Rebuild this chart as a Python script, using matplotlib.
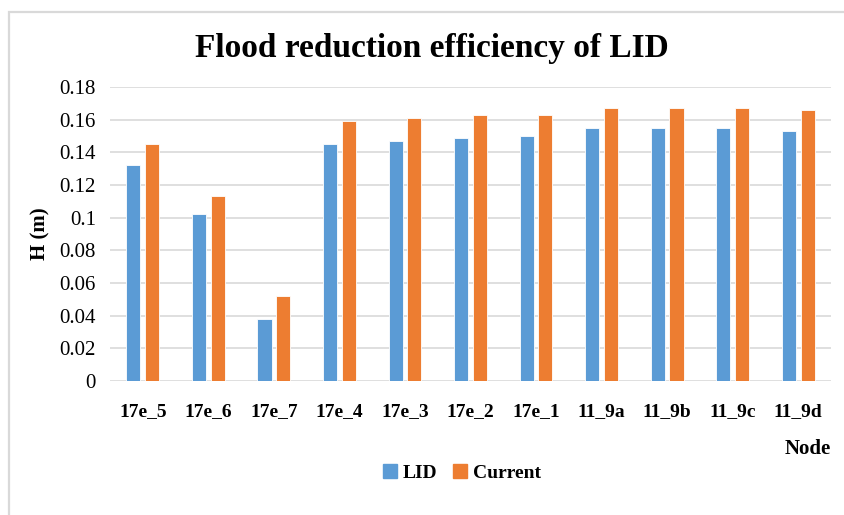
import matplotlib
matplotlib.use("Agg")
import matplotlib.pyplot as plt
from matplotlib.patches import Rectangle, Patch
import numpy as np

# Node names and water depth H (m) for each scenario
nodes = ["17e_5", "17e_6", "17e_7", "17e_4", "17e_3", "17e_2",
         "17e_1", "11_9a", "11_9b", "11_9c", "11_9d"]
lid = [0.132, 0.102, 0.038, 0.145, 0.147, 0.149, 0.150, 0.155, 0.155, 0.155, 0.153]
current = [0.145, 0.113, 0.052, 0.159, 0.161, 0.163, 0.163, 0.167, 0.167, 0.167, 0.166]

plt.rcParams['font.family'] = ['Liberation Serif', 'DejaVu Serif']

W, H = 844, 515
fig = plt.figure(figsize=(W / 100, H / 100), dpi=100)
fig.patch.set_facecolor('white')

# light outer frame of the chart
fig.add_artist(Rectangle((9 / W, -0.1), 1.1, 1 - 12 / H + 0.1, transform=fig.transFigure,
                         fill=False, edgecolor='#d9d9d9', linewidth=1.6))

ax = fig.add_axes([110 / W, 1 - 381 / H, 721 / W, 294 / H])

x = np.arange(len(nodes))
bw = 0.214
off = 0.143
ax.bar(x - off, lid, bw, color='#5B9BD5', edgecolor='white', linewidth=0.6, zorder=3)
ax.bar(x + off, current, bw, color='#ED7D31', edgecolor='white', linewidth=0.6, zorder=3)

ax.set_xlim(-0.5, len(nodes) - 0.5)
ax.set_ylim(0, 0.18)
yt = np.arange(0, 0.181, 0.02)
ax.set_yticks(yt)
ax.set_yticklabels(["0" if v == 0 else f"{v:.2f}".rstrip('0') for v in yt], fontsize=15)
ax.set_xticks(x)
ax.set_xticklabels(nodes, fontsize=14, fontweight='bold')
ax.tick_params(axis='both', length=0)
ax.tick_params(axis='y', pad=10)
ax.tick_params(axis='x', pad=16)

for s in ax.spines.values():
    s.set_visible(False)
ax.grid(axis='y', color='#d9d9d9', linewidth=1.2, zorder=0)
ax.set_axisbelow(True)

ax.set_ylabel("H (m)", fontsize=15, fontweight='bold')
ax.yaxis.set_label_coords(-0.083, 0.5)

fig.text(432 / W, 1 - 49 / H, "Flood reduction efficiency of LID", ha='center', va='center',
         fontsize=24, fontweight='bold')
fig.text(831 / W, 1 - 449 / H, "Node", ha='right', va='center', fontsize=15, fontweight='bold')

handles = [Patch(color='#5B9BD5', label='LID'), Patch(color='#ED7D31', label='Current')]
fig.legend(handles=handles, loc='center', bbox_to_anchor=(462 / W, 1 - 473 / H), ncol=2,
           frameon=False, handlelength=0.7, handleheight=0.7, handletextpad=0.3,
           columnspacing=0.8, prop={'size': 14, 'weight': 'bold'})

fig.savefig("out.png", dpi=100, facecolor='white')
